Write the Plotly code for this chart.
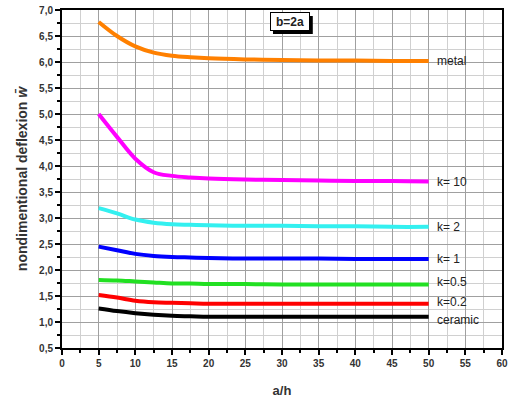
import plotly.graph_objects as go

x_vals = [5, 7.5, 10, 12.5, 15, 17.5, 20, 25, 30, 35, 40, 45, 50]

metal = [6.77, 6.50, 6.30, 6.18, 6.12, 6.09, 6.07, 6.05, 6.04, 6.03, 6.03, 6.02, 6.02]
k10 = [5.00, 4.56, 4.14, 3.88, 3.81, 3.78, 3.76, 3.74, 3.73, 3.72, 3.71, 3.71, 3.70]
k2 = [3.19, 3.09, 2.97, 2.91, 2.88, 2.87, 2.86, 2.85, 2.85, 2.84, 2.84, 2.83, 2.83]
k1 = [2.45, 2.38, 2.31, 2.27, 2.25, 2.24, 2.23, 2.22, 2.22, 2.22, 2.21, 2.21, 2.21]
k05 = [1.81, 1.80, 1.78, 1.76, 1.74, 1.74, 1.73, 1.73, 1.72, 1.72, 1.72, 1.72, 1.72]
k02 = [1.52, 1.47, 1.41, 1.38, 1.37, 1.36, 1.35, 1.35, 1.35, 1.35, 1.35, 1.35, 1.35]
ceramic = [1.26, 1.21, 1.17, 1.14, 1.12, 1.11, 1.10, 1.10, 1.10, 1.10, 1.10, 1.10, 1.10]

series_names = ["metal", "k= 10", "k= 2", "k= 1", "k=0.5", "k=0.2", "ceramic"]
series_vals = [metal, k10, k2, k1, k05, k02, ceramic]
colors = ["#FF8000", "#FF00FF", "#33F0F0", "#0000FF", "#22E022", "#FF0000", "#000000"]
label_offsets = [0, 0, 0, 0, 3, 2, -3]

FONT = "Liberation Sans, Arial"

fig = go.Figure()
for name, vals, c in zip(series_names, series_vals, colors):
    fig.add_trace(go.Scatter(x=x_vals, y=vals, mode="lines", name=name,
                             line=dict(color=c, width=4, shape="spline", smoothing=1.0),
                             showlegend=False))

for name, vals, off in zip(series_names, series_vals, label_offsets):
    fig.add_annotation(x=50.8, y=vals[-1], text=name, showarrow=False, xanchor="left",
                       yanchor="middle", yshift=off,
                       font=dict(family=FONT, size=12, color="#222"))

# shadow of the b=2a box
fig.add_shape(type="rect", xref="paper", yref="paper", x0=0.4795, x1=0.570,
              y0=0.929, y1=0.982, fillcolor="black", line=dict(width=0), layer="above")
fig.add_annotation(xref="paper", yref="paper", x=0.5182, y=0.965, text="<b>b=2a</b>",
                   xanchor="center", yanchor="middle",
                   showarrow=False, bgcolor="white", bordercolor="black", borderwidth=1,
                   width=36, height=15, borderpad=1,
                   font=dict(family=FONT, size=12, color="#222"))

axis_common = dict(showline=True, linecolor="black", linewidth=2, mirror=True,
                   ticks="outside", ticklen=5, tickwidth=1.5, tickcolor="black",
                   gridcolor="#A0A0A0", gridwidth=1, zeroline=False, automargin=False,
                   tickfont=dict(family=FONT, size=10, color="#333", weight="bold"))

fig.update_xaxes(range=[0, 60], dtick=5, tickformat="d",
                 minor=dict(dtick=2.5, showgrid=True, gridcolor="#D0D0D0", ticks="outside",
                            ticklen=3, tickcolor="black"),
                 title=dict(text="<b>a/h</b>", standoff=18,
                            font=dict(family=FONT, size=13, color="#333")),
                 **axis_common)
fig.update_yaxes(range=[0.5, 7.0], dtick=0.5, tickformat=".1f",
                 minor=dict(dtick=0.25, showgrid=True, gridcolor="#D0D0D0", ticks="outside",
                            ticklen=3, tickcolor="black"),
                 title=dict(text="<b>nondimentional deflexion <i>w\u0304</i></b>", standoff=8,
                            font=dict(family=FONT, size=14, color="#333")),
                 **axis_common)

fig.update_layout(width=512, height=403, margin=dict(l=62, r=10, t=10, b=55),
                  paper_bgcolor="white", plot_bgcolor="white", separators=", ")

fig.write_html("out.html")
